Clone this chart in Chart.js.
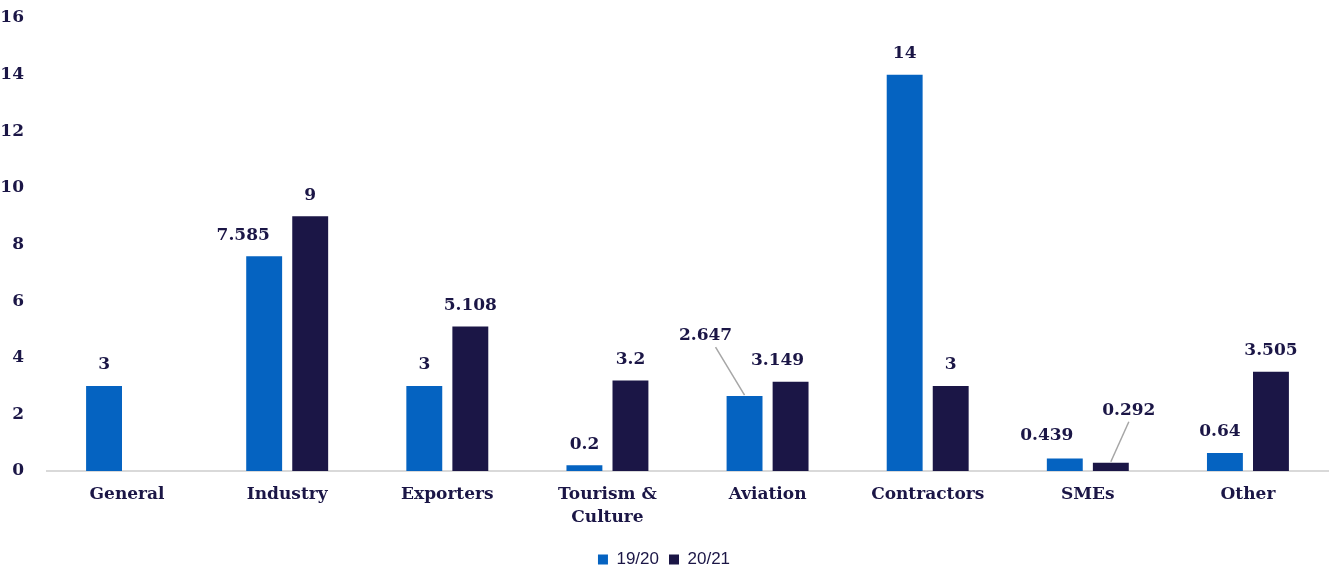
<!DOCTYPE html>
<html><head><meta charset="utf-8">
<script src="https://cdn.jsdelivr.net/npm/chart.js@4"></script>
<style>html,body{margin:0;padding:0;background:#fff}#wrap{width:1333px;height:569px}</style>
</head><body><div id="wrap"><canvas id="c" width="1333" height="569"></canvas></div>
<script>
const categories = ['General','Industry','Exporters',['Tourism &','Culture'],'Aviation','Contractors','SMEs','Other'];
const series1920 = [3, 7.585, 3, 0.2, 2.647, 14, 0.439, 0.64];
const series2021 = [null, 9, 5.108, 3.2, 3.149, 3, 0.292, 3.505];
const seriesNames = ['19/20','20/21'];
const yTicks = [0,2,4,6,8,10,12,14,16];

const TEXT = '#1b1646';
const SERIF = '"DejaVu Serif", Georgia, serif';
// label offsets [dx, dy, leader] per dataset/point (style only)
const labelStyle = [
  {1:[-21,0], 4:[-39,-39,true], 6:[-18,-2], 7:[-5,0]},
  {4:[-13,0], 6:[18,-31,true]}
];

const valueLabels = {
  id:'valueLabels',
  afterDatasetsDraw(chart){
    const ctx = chart.ctx;
    ctx.save();
    ctx.font = 'bold 17px ' + SERIF;
    ctx.fillStyle = TEXT;
    ctx.textAlign = 'center';
    ctx.textBaseline = 'middle';
    chart.data.datasets.forEach((ds,i)=>{
      const meta = chart.getDatasetMeta(i);
      meta.data.forEach((bar,j)=>{
        const v = ds.data[j];
        if (v==null) return;
        const o = labelStyle[i][j] || [0,0];
        const x = bar.x + o[0], y = bar.y - 21 + o[1];
        if (o[2]) {
          ctx.save();
          ctx.strokeStyle = '#a6a6a6'; ctx.lineWidth = 1.5;
          ctx.beginPath();
          ctx.moveTo(bar.x, bar.y - 1);
          ctx.lineTo(x + (o[0] < 0 ? 10 : 0), y + 11);
          ctx.stroke();
          ctx.restore();
        }
        ctx.fillText(String(v), x, y);
      });
    });
    ctx.restore();
  }
};

// compact legend height (keeps horizontal item spacing)
const legendFit = {
  id:'legendFit',
  beforeUpdate(chart){
    const lg = chart.legend;
    if (lg && !lg._fitPatched) {
      const orig = lg.fit.bind(lg);
      lg.fit = function(){ orig(); this.height = 28; };
      lg._fitPatched = true;
    }
  }
};

new Chart(document.getElementById('c'), {
  type:'bar',
  data:{
    labels: categories,
    datasets:[
      {label:seriesNames[0], data:series1920, backgroundColor:'#0563c1', borderWidth:0, categoryPercentage:0.575, barPercentage:0.78},
      {label:seriesNames[1], data:series2021, backgroundColor:'#1b1646', borderWidth:0, categoryPercentage:0.575, barPercentage:0.78}
    ]
  },
  options:{
    responsive:false, animation:false,
    layout:{padding:{top:0,right:5,left:0,bottom:0}},
    plugins:{
      legend:{position:'bottom', labels:{boxWidth:10, boxHeight:10, color:TEXT, font:{family:'"Liberation Sans", Arial, sans-serif', size:17}, padding:10}},
      tooltip:{enabled:false}
    },
    scales:{
      x:{
        grid:{display:false},
        border:{display:true, color:'#d9d9d9', width:2},
        afterFit(scale){ scale.height = 70; },
        ticks:{color:TEXT, font:{family:SERIF, size:17, weight:'bold', lineHeight:1.35}, padding:4, maxRotation:0, autoSkip:false}
      },
      y:{
        min:0, max:16,
        afterBuildTicks(scale){ scale.ticks = yTicks.map(v=>({value:v})); },
        afterFit(scale){ scale.width = 47; scale.paddingTop = 18; },
        grid:{display:false},
        border:{display:false},
        ticks:{color:TEXT, font:{family:SERIF, size:17, weight:'bold'}, padding:15}
      }
    }
  },
  plugins:[valueLabels, legendFit]
});
</script></body></html>
